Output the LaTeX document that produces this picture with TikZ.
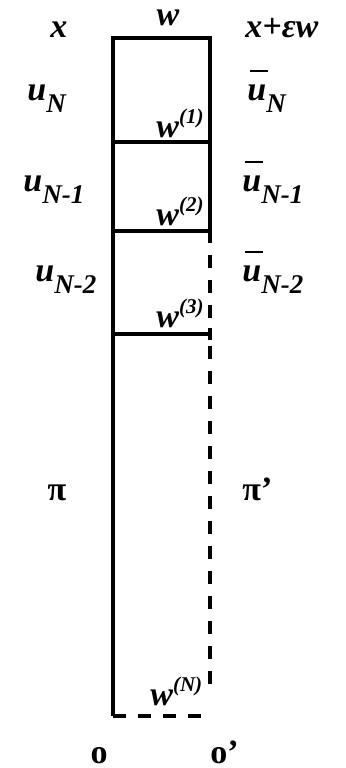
\documentclass[tikz,border=0pt]{standalone}
\usepackage{fontspec}
\setmainfont{Liberation Serif}
\usepackage{tikz}
\usetikzlibrary{positioning}

\newcommand{\lsub}[1]{\raisebox{-6pt}{\fontsize{13.5}{16}\selectfont #1}}
\newcommand{\lsup}[1]{\raisebox{7pt}{\fontsize{10.5}{12}\selectfont #1}}
\newcommand{\ubar}{\makebox[0pt][l]{\hspace{1.5pt}\raisebox{14pt}{\rule{9pt}{1.2pt}}}u}

\begin{document}
\begin{tikzpicture}[
    x=0.5pt, y=-0.5pt,
    lab/.style={inner sep=0pt, anchor=base west, font=\fontsize{17}{20}\selectfont\bfseries\itshape},
    mid/.style={inner sep=0pt, anchor=base, font=\fontsize{17}{20}\selectfont\bfseries},
    wall/.style={line width=2pt},
    open/.style={line width=2pt, dash pattern=on 6.5pt off 6pt}
]
\useasboundingbox (0,0) rectangle (345,768);

\coordinate (tl) at (113,38);
\coordinate (tr) at (210,38);
\coordinate (l1) at (113,142);
\coordinate (r1) at (210,142);
\coordinate (l2) at (113,231);
\coordinate (r2) at (210,231);
\coordinate (l3) at (113,334);
\coordinate (r3) at (210,334);
\coordinate (bl) at (113,716);
\coordinate (br) at (210,716);
\coordinate (rs) at (210,243);

\draw[wall] (l1) -- (r1);
\draw[wall] (l2) -- (r2);
\draw[wall] (l3) -- (r3);
\draw[wall] (r3) ++(0,-6) -- ++(0,12);
\draw[wall, line join=miter] (bl) -- (tl) -- (tr) -- (rs);
\draw[open] (rs) ++(0,12) -- (r3);
\draw[open] (r3) ++(0,12) -- ([yshift=13pt]br);
\draw[open] (bl) -- (br);

\node[lab] (xl) at (50,37) {x};
\node[lab, anchor=base] (wtop) at (168,25) {w};
\node[lab] (xr) at (245,37) {x+εw};

\node[lab] (uN) at (27,100) {u\lsub{N}};
\node[lab] (ubN) at (247,100) {\ubar\lsub{N}};
\node[lab] (w1) at (156,137) {w\lsup{(1)}};

\node[lab] (uN1) at (23,191) {u\lsub{N-1}};
\node[lab] (ubN1) at (242,191) {\ubar\lsub{N-1}};
\node[lab] (w2) at (156,225) {w\lsup{(2)}};

\node[lab] (uN2) at (35,281) {u\lsub{N-2}};
\node[lab] (ubN2) at (242,281) {\ubar\lsub{N-2}};
\node[lab] (w3) at (156,327) {w\lsup{(3)}};

\node[mid] (pil) at (57,500) {π};
\node[mid, anchor=base west] (pir) at (242,500) {π’};

\node[lab] (wN) at (150,705) {w\lsup{(N)}};

\node[mid] (ol) at (99,763) {o};
\node[mid, anchor=base west] (or) at (210,763) {o’};
\end{tikzpicture}
\end{document}
